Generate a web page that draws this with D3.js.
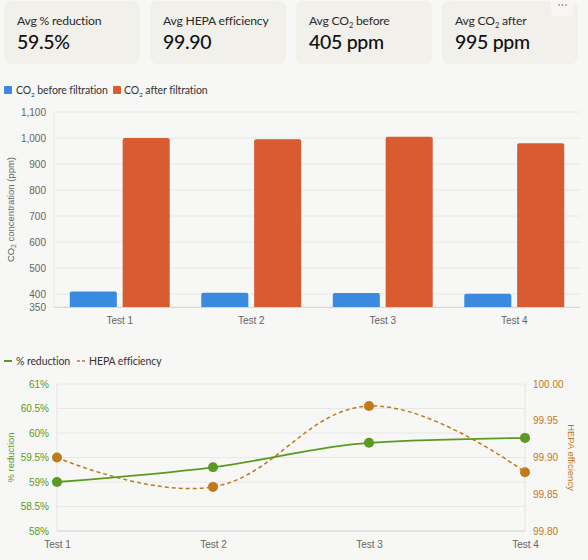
<!DOCTYPE html>
<html>
<head>
<meta charset="utf-8">
<script src="https://cdn.jsdelivr.net/npm/d3@7"></script>
<style>
  html, body { margin: 0; padding: 0; background: #f7f7f5; }
  svg { display: block; }
</style>
</head>
<body>
<div id="chart"></div>
<script>
// data
const tests = ['Test 1', 'Test 2', 'Test 3', 'Test 4'];
const co2Before = [410, 405, 404, 401];
const co2After = [1000, 995, 1005, 980];
const pctReduction = [59.0, 59.3, 59.8, 59.9];
const hepaEfficiency = [99.90, 99.86, 99.97, 99.88];
const co2Ticks = [350, 400, 500, 600, 700, 800, 900, 1000, 1100];
const pctTicks = [58, 58.5, 59, 59.5, 60, 60.5, 61];
const hepaTicks = [99.80, 99.85, 99.90, 99.95, 100.00];

const cards = [
  { label: ['Avg % reduction'], value: '59.5%' },
  { label: ['Avg HEPA efficiency'], value: '99.90' },
  { label: ['Avg CO', '2', ' before'], value: '405 ppm' },
  { label: ['Avg CO', '2', ' after'], value: '995 ppm' }
];

const width = 588;
const height = 560;
const blue = '#3a8ae0';
const orange = '#d95b31';
const green = '#5b9a22';
const ochre = '#c07a1c';
const gridColor = '#e8e8e6';
const axisFont = '"Liberation Sans", Arial, sans-serif';
const uiFont = 'Lato, "Noto Sans", sans-serif';

const svg = d3.select('#chart').append('svg')
  .attr('width', width)
  .attr('height', height)
  .style('background', '#f7f7f5');

// kpi cards
const cardG = svg.selectAll('.card')
  .data(cards)
  .enter().append('g')
  .attr('class', 'card')
  .attr('transform', (d, i) => `translate(${4 + i * 146}, 1)`);

cardG.append('rect')
  .attr('width', 136).attr('height', 63).attr('rx', 7)
  .attr('fill', '#f1f0eb');

cardG.append('text')
  .attr('x', 13).attr('y', 24)
  .attr('font-family', uiFont).attr('font-size', 12.2).attr('fill', '#2b2b2b')
  .attr('letter-spacing', -0.2)
  .each(function (d) {
    const t = d3.select(this);
    d.label.forEach((part, i) => {
      const sub = d.label.length === 3 && i === 1;
      t.append('tspan')
        .attr('font-size', sub ? 7.5 : 12.2)
        .attr('dy', sub ? 3 : (i === 2 ? -3 : 0))
        .text(part);
    });
  });

cardG.append('text')
  .attr('x', 13).attr('y', 48)
  .attr('font-family', uiFont).attr('font-size', 19.5).attr('font-weight', 500)
  .attr('letter-spacing', -0.3)
  .attr('fill', '#111')
  .text(d => d.value);

// menu button on last card
svg.append('rect')
  .attr('x', 551).attr('y', -6).attr('width', 23).attr('height', 22).attr('rx', 4)
  .attr('fill', '#f7f6f2');
svg.append('g')
  .selectAll('circle')
  .data([-3.5, 0, 3.5])
  .enter().append('circle')
  .attr('cx', d => 562.5 + d).attr('cy', 5).attr('r', 0.8)
  .attr('fill', '#666');

// legend helper with CO2 subscript
function co2Label(g, x, y, rest) {
  const t = g.append('text')
    .attr('x', x).attr('y', y)
    .attr('font-family', uiFont).attr('font-size', 10.5).attr('fill', '#333')
    .attr('letter-spacing', -0.1);
  t.append('tspan').text('CO');
  t.append('tspan').attr('font-size', 6.5).attr('dy', 2.5).text('2');
  t.append('tspan').attr('dy', -2.5).text(rest);
}

// ---------- bar chart ----------
const bar = { left: 54, right: 580, top: 112, bottom: 307 };

const legend1 = svg.append('g');
legend1.append('rect').attr('x', 4).attr('y', 86).attr('width', 8).attr('height', 8).attr('rx', 1).attr('fill', blue);
co2Label(legend1, 16, 94, ' before filtration');
legend1.append('rect').attr('x', 113).attr('y', 86).attr('width', 8).attr('height', 8).attr('rx', 1).attr('fill', orange);
co2Label(legend1, 124, 94, ' after filtration');

const x0 = d3.scaleBand().domain(tests).range([bar.left, bar.right]).padding(0);
const x1 = d3.scaleBand().domain(['before', 'after']).range([0, x0.bandwidth() * 0.76]).paddingInner(0.11);
const yBar = d3.scaleLinear().domain([350, 1100]).range([bar.bottom, bar.top]);

svg.append('g')
  .selectAll('line')
  .data(co2Ticks)
  .enter().append('line')
  .attr('x1', bar.left).attr('x2', bar.right)
  .attr('y1', d => yBar(d)).attr('y2', d => yBar(d))
  .attr('stroke', gridColor);

svg.append('line')
  .attr('x1', bar.left).attr('x2', bar.left)
  .attr('y1', bar.top).attr('y2', bar.bottom)
  .attr('stroke', gridColor);

const yAxisBar = svg.append('g')
  .attr('transform', `translate(${bar.left - 2},0)`)
  .call(d3.axisLeft(yBar).tickValues(co2Ticks).tickSize(0).tickPadding(6).tickFormat(d3.format(',')));
yAxisBar.select('.domain').remove();
yAxisBar.selectAll('text').attr('font-family', axisFont).attr('font-size', 10).attr('fill', '#666');

const groupOffset = (x0.bandwidth() - x1.range()[1]) / 2;
const groups = svg.append('g')
  .selectAll('g')
  .data(tests.map((t, i) => ({ test: t, before: co2Before[i], after: co2After[i] })))
  .enter().append('g')
  .attr('transform', d => `translate(${x0(d.test) + groupOffset},0)`);

groups.selectAll('path')
  .data(d => [{ key: 'before', value: d.before }, { key: 'after', value: d.after }])
  .enter().append('path')
  .attr('fill', d => d.key === 'before' ? blue : orange)
  .attr('d', d => {
    const x = x1(d.key);
    const w = x1.bandwidth();
    const y = yBar(d.value);
    const b = yBar(350);
    const r = 2;
    return `M${x},${b}V${y + r}Q${x},${y} ${x + r},${y}H${x + w - r}Q${x + w},${y} ${x + w},${y + r}V${b}Z`;
  });

svg.append('line')
  .attr('x1', bar.left).attr('x2', bar.right)
  .attr('y1', bar.bottom + 0.5).attr('y2', bar.bottom + 0.5)
  .attr('stroke', '#d6d6d4');

const xAxisBar = svg.append('g')
  .attr('transform', `translate(0,${bar.bottom})`)
  .call(d3.axisBottom(x0).tickSize(0).tickPadding(10));
xAxisBar.select('.domain').remove();
xAxisBar.selectAll('text').attr('font-family', axisFont).attr('font-size', 10).attr('fill', '#666');

const barTitle = svg.append('text')
  .attr('transform', `translate(14,${(bar.top + bar.bottom) / 2}) rotate(-90)`)
  .attr('text-anchor', 'middle')
  .attr('font-family', axisFont).attr('font-size', 9.5).attr('fill', '#666');
barTitle.append('tspan').text('CO');
barTitle.append('tspan').attr('font-size', 6.5).attr('dy', 2).text('2');
barTitle.append('tspan').attr('dy', -2).text(' concentration (ppm)');

// ---------- line chart ----------
const ln = { left: 57, right: 525, top: 384, bottom: 531 };

const legend2 = svg.append('g');
legend2.append('line').attr('x1', 4).attr('x2', 12).attr('y1', 361).attr('y2', 361)
  .attr('stroke', green).attr('stroke-width', 2);
legend2.append('text').attr('x', 16).attr('y', 365)
  .attr('font-family', uiFont).attr('font-size', 10.5).attr('letter-spacing', -0.1)
  .attr('fill', '#333').text('% reduction');
legend2.append('line').attr('x1', 77).attr('x2', 86).attr('y1', 361).attr('y2', 361)
  .attr('stroke', ochre).attr('stroke-width', 1.5).attr('stroke-dasharray', '3,2');
legend2.append('text').attr('x', 89).attr('y', 365)
  .attr('font-family', uiFont).attr('font-size', 10.5).attr('letter-spacing', -0.1)
  .attr('fill', '#333').text('HEPA efficiency');

const xLine = d3.scalePoint().domain(tests).range([ln.left, ln.right]);
const yPct = d3.scaleLinear().domain([58, 61]).range([ln.bottom, ln.top]);
const yHepa = d3.scaleLinear().domain([99.80, 100.00]).range([ln.bottom, ln.top]);

svg.append('g')
  .selectAll('line')
  .data(pctTicks)
  .enter().append('line')
  .attr('x1', ln.left).attr('x2', ln.right)
  .attr('y1', d => yPct(d)).attr('y2', d => yPct(d))
  .attr('stroke', gridColor);

[ln.left, ln.right].forEach(xv => {
  svg.append('line')
    .attr('x1', xv).attr('x2', xv)
    .attr('y1', ln.top).attr('y2', ln.bottom)
    .attr('stroke', '#e2e2e0');
});
svg.append('line')
  .attr('x1', ln.left).attr('x2', ln.right)
  .attr('y1', ln.bottom).attr('y2', ln.bottom)
  .attr('stroke', '#d6d6d4');

const yAxisPct = svg.append('g')
  .attr('transform', `translate(${ln.left - 2},0)`)
  .call(d3.axisLeft(yPct).tickValues(pctTicks).tickSize(0).tickPadding(6).tickFormat(d => d + '%'));
yAxisPct.select('.domain').remove();
yAxisPct.selectAll('text').attr('font-family', axisFont).attr('font-size', 10).attr('fill', green);

const yAxisHepa = svg.append('g')
  .attr('transform', `translate(${ln.right + 2},0)`)
  .call(d3.axisRight(yHepa).tickValues(hepaTicks).tickSize(0).tickPadding(6).tickFormat(d3.format('.2f')));
yAxisHepa.select('.domain').remove();
yAxisHepa.selectAll('text').attr('font-family', axisFont).attr('font-size', 10).attr('fill', ochre);

const xAxisLine = svg.append('g')
  .attr('transform', `translate(0,${ln.bottom})`)
  .call(d3.axisBottom(xLine).tickSize(0).tickPadding(10));
xAxisLine.select('.domain').remove();
xAxisLine.selectAll('text').attr('font-family', axisFont).attr('font-size', 10).attr('fill', '#666');

svg.append('text')
  .attr('transform', `translate(14,${(ln.top + ln.bottom) / 2}) rotate(-90)`)
  .attr('text-anchor', 'middle')
  .attr('font-family', axisFont).attr('font-size', 9.5).attr('fill', green)
  .text('% reduction');

svg.append('text')
  .attr('transform', `translate(568,${(ln.top + ln.bottom) / 2}) rotate(90)`)
  .attr('text-anchor', 'middle')
  .attr('font-family', axisFont).attr('font-size', 9.5).attr('fill', ochre)
  .text('HEPA efficiency');

const curve = d3.curveCardinal.tension(-0.2);

const pctLine = d3.line()
  .x((d, i) => xLine(tests[i]))
  .y(d => yPct(d))
  .curve(d3.curveMonotoneX);

const hepaLine = d3.line()
  .x((d, i) => xLine(tests[i]))
  .y(d => yHepa(d))
  .curve(curve);

svg.append('path')
  .datum(hepaEfficiency)
  .attr('d', hepaLine)
  .attr('fill', 'none')
  .attr('stroke', ochre)
  .attr('stroke-width', 1.5)
  .attr('stroke-dasharray', '4,3');

svg.append('path')
  .datum(pctReduction)
  .attr('d', pctLine)
  .attr('fill', 'none')
  .attr('stroke', green)
  .attr('stroke-width', 1.8);

svg.append('g')
  .selectAll('circle')
  .data(hepaEfficiency)
  .enter().append('circle')
  .attr('cx', (d, i) => xLine(tests[i]))
  .attr('cy', d => yHepa(d))
  .attr('r', 5)
  .attr('fill', ochre);

svg.append('g')
  .selectAll('circle')
  .data(pctReduction)
  .enter().append('circle')
  .attr('cx', (d, i) => xLine(tests[i]))
  .attr('cy', d => yPct(d))
  .attr('r', 5)
  .attr('fill', green);
</script>
</body>
</html>
